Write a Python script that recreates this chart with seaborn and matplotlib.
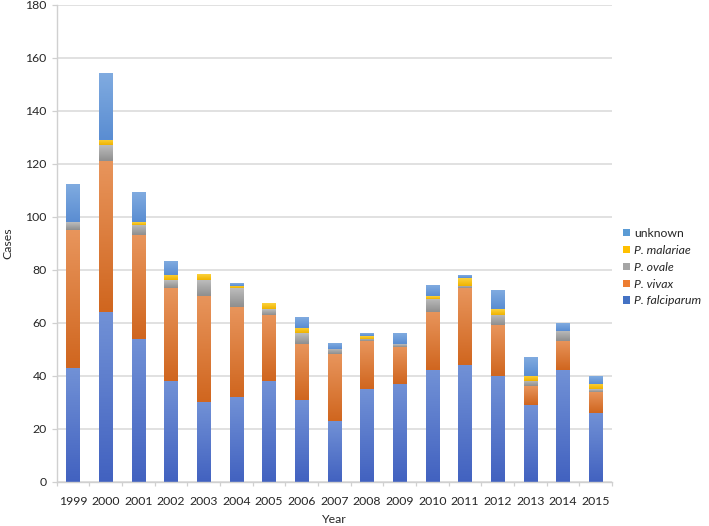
import numpy as np
import pandas as pd
import matplotlib
matplotlib.use("Agg")
import matplotlib.pyplot as plt
import seaborn as sns
from matplotlib.colors import LinearSegmentedColormap, to_rgba
from matplotlib.patches import Patch
from matplotlib.ticker import FixedLocator

years = list(range(1999, 2016))
falciparum = [43, 64, 54, 38, 30, 32, 38, 31, 23, 35, 37, 42, 44, 40, 29, 42, 26]
vivax = [52, 57, 39, 35, 40, 34, 25, 21, 25, 18, 14, 22, 29, 19, 7, 11, 8]
ovale = [3, 6, 4, 3, 6, 7, 2, 4, 2, 1, 1, 5, 1, 4, 2, 4, 1]
malariae = [0, 2, 1, 2, 2, 1, 2, 2, 0, 1, 0, 1, 3, 2, 2, 0, 2]
unknown = [14, 25, 11, 5, 0, 1, 0, 4, 2, 1, 4, 4, 1, 7, 7, 3, 3]

species = ["unknown", "P. malariae", "P. ovale", "P. vivax", "P. falciparum"]
series = {"unknown": unknown, "P. malariae": malariae, "P. ovale": ovale,
          "P. vivax": vivax, "P. falciparum": falciparum}
y_ticks = list(range(0, 181, 20))

base = {"unknown": "#5B9BD5", "P. malariae": "#FFC000", "P. ovale": "#A5A5A5",
        "P. vivax": "#ED7D31", "P. falciparum": "#4472C4"}
grad = {"unknown": ("#5a8dd2", "#80abe0"),
        "P. malariae": ("#efb300", "#fcd23c"),
        "P. ovale": ("#8f8f8f", "#bcbcbc"),
        "P. vivax": ("#d0661f", "#e8955c"),
        "P. falciparum": ("#4262c0", "#7191d6")}

rows = []
for sp in species:
    for yr, v in zip(years, series[sp]):
        rows.append({"Year": yr, "Species": sp, "Cases": v})
df = pd.DataFrame(rows)

sns.set_style("white")
plt.rcParams["font.family"] = ["Lato", "DejaVu Sans"]
text_color = "#262626"

fig = plt.figure(figsize=(7.09, 5.26), dpi=100)
ax = fig.add_axes([56.5 / 709, 1 - 481.7 / 526, (612 - 56.5) / 709, (481.7 - 4.7) / 526])

sns.histplot(data=df, x="Year", weights="Cases", hue="Species", hue_order=species,
             multiple="stack", discrete=True, shrink=0.4, palette=base,
             alpha=1, linewidth=0, legend=False, ax=ax)

# gradient fill for each segment
color_map = {tuple(np.round(to_rgba(c), 3)): sp for sp, c in base.items()}
for p in list(ax.patches):
    h = p.get_height()
    if h <= 0:
        continue
    fc = tuple(np.round(p.get_facecolor(), 3))
    sp = color_map.get(fc)
    if sp is None:
        continue
    cmap = LinearSegmentedColormap.from_list(sp, list(grad[sp]))
    g = np.linspace(0, 1, 64).reshape(-1, 1)
    x0, y0, w = p.get_x(), p.get_y(), p.get_width()
    ax.imshow(g, extent=[x0, x0 + w, y0, y0 + h], origin="lower", aspect="auto",
              cmap=cmap, zorder=p.get_zorder() + 0.1, interpolation="bilinear")

ax.set_xlim(years[0] - 0.5, years[-1] + 0.5)
ax.set_ylim(0, 180)
ax.set_aspect("auto")
ax.set_axisbelow(True)

ax.set_xticks(years)
ax.set_xticklabels([str(y) for y in years])
ax.xaxis.set_minor_locator(FixedLocator(np.arange(years[0] - 0.5, years[-1] + 1.0, 1.0)))
ax.set_yticks(y_ticks)
ax.set_yticklabels([str(v) for v in y_ticks])

ax.yaxis.grid(True, color="#d9d9d9", linewidth=1.1)
ax.xaxis.grid(False)
for s in ["top", "right"]:
    ax.spines[s].set_visible(False)
for s in ["left", "bottom"]:
    ax.spines[s].set_color("#d0d0d0")
    ax.spines[s].set_linewidth(1.0)

ax.tick_params(axis="x", which="major", length=0, pad=10.5, labelsize=8.8, colors=text_color)
ax.tick_params(axis="x", which="minor", length=3.2, width=0.9, color="#d0d0d0", bottom=True)
ax.tick_params(axis="y", which="major", length=3.6, width=0.9, color="#d0d0d0",
               pad=3.4, labelsize=8.8, labelcolor=text_color, left=True)

ax.set_xlabel("Year", fontsize=8.8, color=text_color, labelpad=4.5)
ax.set_ylabel("Cases", fontsize=8.8, color=text_color, labelpad=9)

handles = [Patch(facecolor=base[sp], edgecolor="none") for sp in species]
leg = fig.legend(handles, species, loc="upper left", bbox_to_anchor=(623 / 709, 1 - 228 / 526),
                 frameon=False, fontsize=8.8, handlelength=0.55, handleheight=0.55,
                 handletextpad=0.35, labelspacing=0.48, borderaxespad=0, borderpad=0)
for t in leg.get_texts():
    t.set_color(text_color)
    if t.get_text().startswith("P."):
        t.set_fontstyle("italic")

fig.savefig("out.png", dpi=100)
